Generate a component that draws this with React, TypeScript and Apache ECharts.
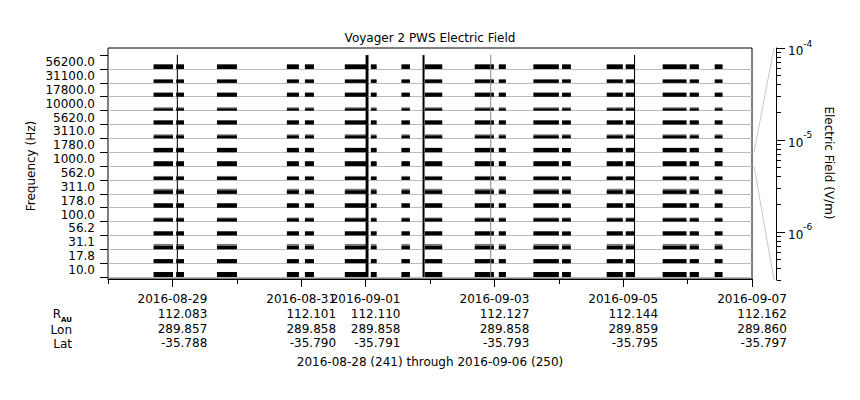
import React, { useEffect, useRef } from "react";
import * as echarts from "echarts";

// ---------------- data ----------------
// frequency channels, bottom to top (Hz)
const channels = ["10.0", "17.8", "31.1", "56.2", "100.0", "178.0", "311.0", "562.0", "1000.0", "1780.0", "3110.0", "5620.0", "10000.0", "17800.0", "31100.0", "56200.0"];
// typical electric field per channel (V/m), drawn black
const meanField = [2.45e-6, 1.6e-6, 1.2e-6, 1.6e-6, 1.05e-6, 1.8e-6, 1.2e-6, 1.05e-6, 2.15e-6, 1.8e-6, 9.3e-7, 1.6e-6, 6.9e-7, 1.6e-6, 1.2e-6, 1.97e-6];
// peak electric field per channel (V/m), drawn grey
const peakField = [2.45e-6, 1.6e-6, 2.76e-6, 1.6e-6, 1.6e-6, 1.8e-6, 2.45e-6, 1.6e-6, 2.15e-6, 1.8e-6, 1.6e-6, 1.6e-6, 1.2e-6, 1.6e-6, 1.2e-6, 1.97e-6];
// data coverage intervals, days since 2016-08-28 00:00
const segStart = [0.709, 1.06, 1.692, 2.778, 3.058, 3.678, 4.082, 4.558, 4.92, 5.696, 6.069, 6.607, 7.051, 7.745, 8.04, 8.614, 9.034, 9.422];
const segEnd = [1.009, 1.18, 2.002, 2.964, 3.197, 4.015, 4.17, 4.687, 5.189, 5.991, 6.177, 7.0, 7.186, 7.993, 8.175, 8.982, 9.174, 9.541];
// broadband bursts (all channels saturated), days since 2016-08-28
const burstStart = [1.069, 4.0, 4.884, 8.168];
const burstEnd = [1.085, 4.045, 4.915, 8.184];
const faintBurstStart = [5.935];
const faintBurstEnd = [5.951];
// time axis labels
const labelDays = [1, 3, 4, 6, 8, 10];
const minorDays = [0, 2, 5, 7, 9];
const labelDates = ["2016-08-29", "2016-08-31", "2016-09-01", "2016-09-03", "2016-09-05", "2016-09-07"];
const rAu = ["112.083", "112.101", "112.110", "112.127", "112.144", "112.162"];
const lonVals = ["289.857", "289.858", "289.858", "289.858", "289.859", "289.860"];
const latVals = ["-35.788", "-35.790", "-35.791", "-35.793", "-35.795", "-35.797"];
// colour-bar range (V/m)
const fieldMin = 3e-7;
const fieldMax = 1e-4;
const fieldDecades = [-6, -5, -4];

// ---------------- layout ----------------
const FONT = "DejaVu Sans";
const PLOT_LEFT = 108;
const PLOT_RIGHT = 752;
const FRAME_TOP = 48;
const FRAME_BOTTOM = 279;
const DATA_TOP = 55.1;
const DATA_BOTTOM = 277;
const CB_X = 777;
const CB_TOP = 48;
const CB_BOTTOM = 280;
const W = 860;
const H = 400;

const LMIN = Math.log10(fieldMin);
const LMAX = Math.log10(fieldMax);
const COLORS = ["#767676", "#000000", "#000000", "#8a8a8a"];

function buildData() {
  const out: number[][] = [];
  for (let s = 0; s < segStart.length; s++) {
    for (let c = 0; c < channels.length; c++) {
      out.push([segStart[s], segEnd[s], c, peakField[c], 0]);
    }
  }
  for (let s = 0; s < segStart.length; s++) {
    for (let c = 0; c < channels.length; c++) {
      out.push([segStart[s], segEnd[s], c, meanField[c], 1]);
    }
  }
  for (let b = 0; b < faintBurstStart.length; b++) {
    for (let c = 0; c < channels.length; c++) {
      out.push([faintBurstStart[b], faintBurstEnd[b], c, fieldMax, 3]);
    }
  }
  for (let b = 0; b < burstStart.length; b++) {
    for (let c = 0; c < channels.length; c++) {
      out.push([burstStart[b], burstEnd[b], c, fieldMax, 2]);
    }
  }
  return out;
}

function minorLogTicks() {
  const v: number[] = [];
  for (let n = -7; n <= -5; n++) {
    for (let k = 2; k <= 9; k++) {
      const l = Math.log10(k * Math.pow(10, n));
      if (l >= LMIN && l <= LMAX) v.push(l);
    }
  }
  return v;
}

function buildOption() {
  const bandH = (DATA_BOTTOM - DATA_TOP) / channels.length;
  const refIdx = channels.indexOf("1000.0");
  const refTop = DATA_BOTTOM - (refIdx + 1) * bandH;
  const refBottom = DATA_BOTTOM - refIdx * bandH;

  return {
    animation: false,
    backgroundColor: "#ffffff",
    textStyle: { fontFamily: FONT, color: "#000" },
    title: {
      text: "Voyager 2 PWS Electric Field",
      left: "center",
      top: 27,
      textStyle: { fontSize: 12, fontWeight: "normal", color: "#000", fontFamily: FONT },
    },
    grid: [
      {
        left: PLOT_LEFT,
        right: W - PLOT_RIGHT,
        top: FRAME_TOP,
        bottom: H - FRAME_BOTTOM,
        show: true,
        borderColor: "#000",
        borderWidth: 1,
        backgroundColor: "transparent",
      },
      {
        left: PLOT_LEFT,
        right: W - PLOT_RIGHT,
        top: DATA_TOP,
        bottom: H - DATA_BOTTOM,
      },
      {
        left: CB_X - 1,
        width: 1,
        top: CB_TOP,
        bottom: H - CB_BOTTOM,
      },
    ],
    xAxis: [
      {
        gridIndex: 0,
        type: "value",
        min: 0,
        max: 10,
        position: "bottom",
        axisLine: { show: true, lineStyle: { color: "#000" } },
        axisTick: { show: true, length: 8, lineStyle: { color: "#000" }, customValues: labelDays },
        splitLine: { show: false },
        axisLabel: {
          show: true,
          customValues: labelDays,
          margin: 13,
          align: "center",
          formatter: (val: number) => {
            const i = labelDays.indexOf(Math.round(val));
            if (i < 0) return "";
            return `{r|${labelDates[i]}}\n{r|${rAu[i]}}\n{r|${lonVals[i]}}\n{r|${latVals[i]}}`;
          },
          rich: {
            r: { align: "right", fontSize: 12, lineHeight: 14.7, fontFamily: FONT, color: "#000" },
          },
        },
      },
      {
        gridIndex: 0,
        type: "value",
        min: 0,
        max: 10,
        position: "bottom",
        axisLine: { show: false },
        axisTick: { show: true, length: 5, lineStyle: { color: "#000" }, customValues: minorDays },
        axisLabel: { show: false },
        splitLine: { show: false },
      },
      {
        gridIndex: 1,
        type: "value",
        min: 0,
        max: 10,
        show: false,
        splitLine: { show: false },
      },
      {
        gridIndex: 2,
        type: "value",
        min: 0,
        max: 1,
        show: false,
        splitLine: { show: false },
      },
    ],
    yAxis: [
      {
        gridIndex: 1,
        type: "category",
        data: channels,
        boundaryGap: true,
        axisLine: { show: false },
        axisTick: { show: true, length: 8, lineStyle: { color: "#000" } },
        axisLabel: { color: "#000", fontSize: 12, fontFamily: FONT, margin: 13, interval: 0 },
        splitLine: { show: true, showMaxLine: false, lineStyle: { color: "#bbbbbb", width: 1 } },
      },
      {
        gridIndex: 2,
        type: "value",
        min: LMIN,
        max: LMAX,
        position: "right",
        axisLine: { show: true, lineStyle: { color: "#000" } },
        axisTick: { show: true, length: 9, lineStyle: { color: "#000" }, customValues: fieldDecades },
        splitLine: { show: false },
        axisLabel: {
          show: true,
          customValues: fieldDecades,
          margin: 11,
          formatter: (val: number) => `{b|10}{s|${Math.round(val)}}`,
          rich: {
            b: { fontSize: 12, fontFamily: FONT, color: "#000", lineHeight: 18, verticalAlign: "bottom" },
            s: { fontSize: 9, fontFamily: FONT, color: "#000", lineHeight: 11, verticalAlign: "top" },
          },
        },
      },
      {
        gridIndex: 2,
        type: "value",
        min: LMIN,
        max: LMAX,
        position: "right",
        axisLine: { show: false },
        axisTick: { show: true, length: 4, lineStyle: { color: "#000" }, customValues: minorLogTicks() },
        axisLabel: { show: false },
        splitLine: { show: false },
      },
      {
        gridIndex: 0,
        type: "value",
        min: 0,
        max: 1,
        show: false,
        splitLine: { show: false },
      },
    ],
    series: [
      {
        type: "custom",
        xAxisIndex: 2,
        yAxisIndex: 0,
        encode: { x: [0, 1], y: 2 },
        data: buildData(),
        renderItem: (params: any, api: any) => {
          const t0 = api.value(0);
          const t1 = api.value(1);
          const ch = api.value(2);
          const v = api.value(3);
          const kind = api.value(4);
          const p0 = api.coord([t0, ch]);
          const p1 = api.coord([t1, ch]);
          const band = api.size([0, 1])[1];
          const bottom = p0[1] + band / 2;
          const frac = Math.max(0, Math.min(1, (Math.log10(v) - LMIN) / (LMAX - LMIN)));
          const h = band * frac;
          const w = Math.max(p1[0] - p0[0], 1);
          return {
            type: "rect",
            shape: { x: p0[0], y: bottom - h, width: w, height: h },
            style: { fill: COLORS[kind] },
          };
        },
      },
    ],
    graphic: [
      {
        type: "text",
        x: 31,
        y: (DATA_TOP + DATA_BOTTOM) / 2,
        rotation: Math.PI / 2,
        style: { text: "Frequency (Hz)", fontSize: 12, fontFamily: FONT, fill: "#000", align: "center", verticalAlign: "middle" },
      },
      {
        type: "text",
        x: 829,
        y: 163,
        rotation: -Math.PI / 2,
        style: { text: "Electric Field (V/m)", fontSize: 12, fontFamily: FONT, fill: "#000", align: "center", verticalAlign: "middle" },
      },
      {
        type: "line",
        shape: { x1: PLOT_RIGHT + 2, y1: refTop, x2: CB_X - 3, y2: CB_TOP },
        style: { stroke: "#c8c8c8", lineWidth: 1 },
      },
      {
        type: "line",
        shape: { x1: PLOT_RIGHT + 2, y1: refBottom, x2: CB_X - 3, y2: CB_BOTTOM },
        style: { stroke: "#c8c8c8", lineWidth: 1 },
      },
      {
        type: "text",
        x: 72,
        y: 314,
        style: {
          text: "{r|R}{s|AU}",
          align: "right",
          verticalAlign: "middle",
          rich: {
            r: { fontSize: 12, fontFamily: FONT, fill: "#000", lineHeight: 18, verticalAlign: "middle" },
            s: { fontSize: 7, fontFamily: FONT, fontWeight: "bold", fill: "#000", lineHeight: 9, verticalAlign: "bottom" },
          },
        },
      },
      {
        type: "text",
        x: 72,
        y: 330,
        style: { text: "Lon", fontSize: 12, fontFamily: FONT, fill: "#000", align: "right", verticalAlign: "middle" },
      },
      {
        type: "text",
        x: 72,
        y: 344,
        style: { text: "Lat", fontSize: 12, fontFamily: FONT, fill: "#000", align: "right", verticalAlign: "middle" },
      },
      {
        type: "text",
        x: 430,
        y: 362,
        style: {
          text: "2016-08-28 (241) through 2016-09-06 (250)",
          fontSize: 12,
          fontFamily: FONT,
          fill: "#000",
          align: "center",
          verticalAlign: "middle",
        },
      },
    ],
  };
}

export default function App() {
  const ref = useRef<HTMLDivElement>(null);
  useEffect(() => {
    if (!ref.current) return;
    const chart = echarts.init(ref.current, null, { renderer: "svg", width: W, height: H });
    chart.setOption(buildOption() as any);
    return () => {
      chart.dispose();
    };
  }, []);
  return (
    <div
      ref={ref}
      style={{ position: "fixed", left: 0, top: 0, width: W, height: H, background: "#fff" }}
    />
  );
}
